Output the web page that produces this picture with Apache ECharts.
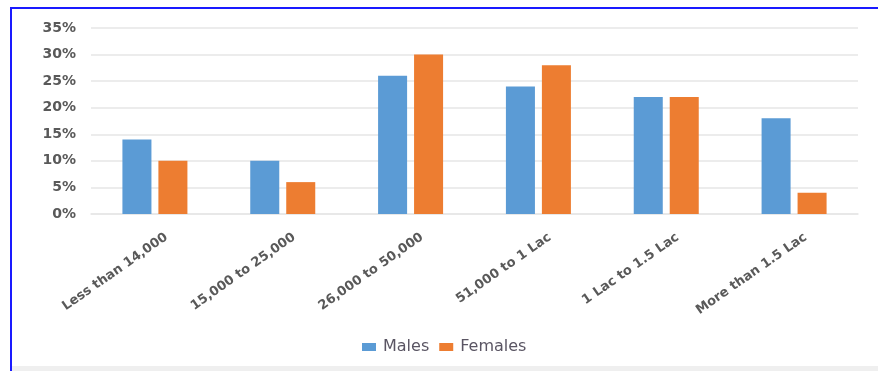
<!DOCTYPE html>
<html>
<head>
<meta charset="utf-8">
<script src="https://cdn.jsdelivr.net/npm/echarts@6/dist/echarts.min.js"></script>
<style>
html,body{margin:0;padding:0;background:#fff;}
#wrap{position:relative;width:878px;height:371px;overflow:hidden;}
#chart{position:absolute;left:0;top:0;width:878px;height:371px;}
#bt{position:absolute;left:10px;top:7px;width:868px;height:2px;background:#1a1aff;}
#bl{position:absolute;left:10px;top:7px;width:2px;height:364px;background:#1a1aff;}
#bb{position:absolute;left:12px;top:366px;width:866px;height:5px;background:#efefef;}
</style>
</head>
<body>
<div id="wrap">
<div id="chart"></div>
<div id="bt"></div><div id="bl"></div><div id="bb"></div>
</div>
<script>
const categories = ["Less than 14,000","15,000 to 25,000","26,000 to 50,000","51,000 to 1 Lac","1 Lac to 1.5 Lac","More than 1.5 Lac"];
const males = [14, 10, 26, 24, 22, 18];
const females = [10, 6, 30, 28, 22, 4];
const seriesNames = ["Males","Females"];

const chart = echarts.init(document.getElementById('chart'));
chart.setOption({
  animation:false,
  grid:{left:91,right:20,top:28,bottom:157,containLabel:false},
  legend:{
    data:seriesNames, top:334, left:357,
    itemWidth:14, itemHeight:8, itemGap:10,
    icon:'rect',
    textStyle:{color:'#5a5563', fontFamily:'DejaVu Sans', fontSize:16, padding:[0,0,0,2]}
  },
  xAxis:{
    type:'category', data:categories,
    axisLine:{show:true, lineStyle:{color:'#e6e6e6', width:1.5}},
    axisTick:{show:false},
    axisLabel:{rotate:35, interval:0, color:'#595959', fontFamily:'DejaVu Sans', fontWeight:'bold', fontSize:13, margin:30, padding:[0,-14,0,0]}
  },
  yAxis:{
    type:'value', min:0, max:35, interval:5,
    axisLine:{show:false}, axisTick:{show:false},
    splitLine:{lineStyle:{color:'#e6e6e6', width:1.5}},
    axisLabel:{formatter:'{value}%', color:'#595959', fontFamily:'DejaVu Sans', fontWeight:'bold', fontSize:14, margin:15}
  },
  series:[
    {name:seriesNames[0], type:'bar', data:males, itemStyle:{color:'#5b9bd5'}, barWidth:'22.7%', barGap:'24%'},
    {name:seriesNames[1], type:'bar', data:females, itemStyle:{color:'#ed7d31'}, barWidth:'22.7%', barGap:'24%'}
  ]
});
</script>
</body>
</html>
